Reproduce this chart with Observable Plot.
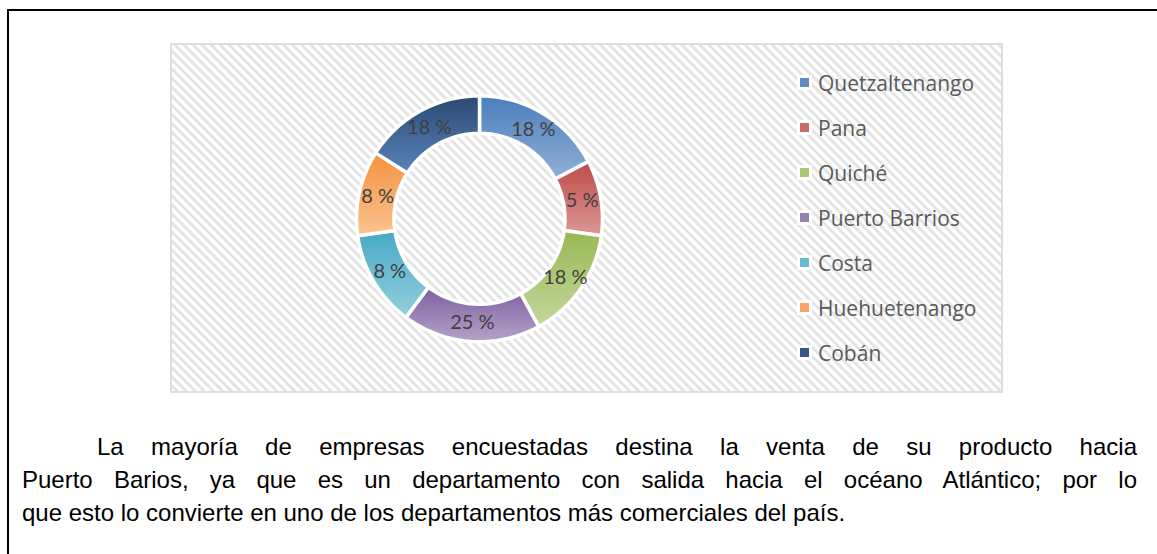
<!DOCTYPE html>
<html><head><meta charset="utf-8">
<script src="https://cdn.jsdelivr.net/npm/d3@7"></script>
<script src="https://cdn.jsdelivr.net/npm/@observablehq/plot@0.6"></script>
<style>
body{margin:0;background:#fff;width:1157px;height:554px;overflow:hidden;position:relative;font-family:"Liberation Sans",Arial,sans-serif;}
#frame{position:absolute;left:7px;top:9px;width:1300px;height:700px;border-top:2px solid #000;border-left:2px solid #000;}
#chartbg{position:absolute;left:170px;top:43px;width:833px;height:350px;box-sizing:border-box;border:2px solid #dedede;
 background:repeating-linear-gradient(45deg,#ffffff 0px,#ffffff 1.4px,#e2e2e2 3px,#e2e2e2 4.2px,#ffffff 5.8px,#ffffff 6.4px);}
#plot{position:absolute;left:170px;top:43px;}
#legend{position:absolute;left:797px;top:60px;font-family:"Open Sans",Lato,sans-serif;font-size:21px;color:#595959;}
.item{height:45px;display:flex;align-items:center;}
.sw{width:9px;height:9px;border:3px solid #fff;margin-right:6px;}
.line{position:absolute;left:22px;width:1115px;font-size:24px;line-height:33px;color:#000;white-space:nowrap;}
.just{text-align:justify;text-align-last:justify;white-space:normal;}
</style></head>
<body>
<div id="frame"></div>
<div id="chartbg"></div>
<div id="plot"></div>
<div id="legend"></div>
<div class="line just" style="top:430px;padding-left:75px;width:1040px;">La mayoría de empresas encuestadas destina la venta de su producto hacia</div>
<div class="line just" style="top:463px;">Puerto Barios, ya que es un departamento con salida hacia el océano Atlántico; por lo</div>
<div class="line" style="top:496px;">que esto lo convierte en uno de los departamentos más comerciales del país.</div>
<script>
// Categories (clockwise from top)
const names = ["Quetzaltenango","Pana","Quiché","Puerto Barrios","Costa","Huehuetenango","Cobán"];
// Slice sizes as drawn in the picture (share of the ring, %)
const sliceShares = [17.3, 9.9, 14.8, 18.2, 12.6, 11.2, 16.0];
// Percent labels printed on the slices
const labelPercents = [18, 5, 18, 25, 8, 8, 18];
// Palette (gradient top / bottom, legend swatch)
const topColors = ["#4a7ebb","#be4b48","#98b954","#7d60a0","#46aac5","#f69240","#2a4a72"];
const bottomColors = ["#93afd8","#da9996","#c4d79d","#b4a3c9","#95cfde","#fac391","#5a82ba"];
const swatchColors = ["#5f8ec6","#c96b68","#a9c670","#9580b2","#65bbd0","#f8a466","#355a88"];

const data = names.map((name, i) => ({name, value: sliceShares[i], label: `${labelPercents[i]} %`}));
const arcs = d3.pie().sort(null).value(d => d.value)(data);
const R = 1, r = 0.695, steps = 120;
const pts = [];
for (const a of arcs) {
  const n = Math.max(2, Math.ceil((a.endAngle - a.startAngle) / (2 * Math.PI) * steps));
  for (let k = 0; k <= n; k++) {
    const t = a.startAngle + (a.endAngle - a.startAngle) * k / n;
    pts.push({name: a.data.name, x: R * Math.sin(t), y: R * Math.cos(t)});
  }
  for (let k = n; k >= 0; k--) {
    const t = a.startAngle + (a.endAngle - a.startAngle) * k / n;
    pts.push({name: a.data.name, x: r * Math.sin(t), y: r * Math.cos(t)});
  }
}
const labels = arcs.map(a => {
  const m = (a.startAngle + a.endAngle) / 2, rm = (R + r) / 2;
  return {label: a.data.label, x: rm * Math.sin(m), y: rm * Math.cos(m)};
});
const grads = names.map((_, i) => `url(#g${i})`);
const cx = 309, cy = 175.3, rad = 123;
const svg = Plot.plot({
  width: 833, height: 350,
  margin: 0,
  style: {background: "transparent", overflow: "visible"},
  x: {domain: [-1, 1], range: [cx - rad, cx + rad], axis: null},
  y: {domain: [-1, 1], range: [cy + rad, cy - rad], axis: null},
  color: {type: "ordinal", domain: names, range: grads},
  marks: [
    Plot.line(pts, {x: "x", y: "y", z: "name", fill: "name", stroke: "white", strokeWidth: 3.5, curve: "linear-closed", strokeLinejoin: "miter"}),
    Plot.text(labels, {x: "x", y: "y", text: "label", fill: "#404040", fontSize: 20, fontFamily: "Lato, 'Open Sans', sans-serif"})
  ]
});
const defs = d3.select(svg).insert("defs", ":first-child");
names.forEach((_, i) => {
  const g = defs.append("linearGradient").attr("id", `g${i}`).attr("x1", 0).attr("y1", 0).attr("x2", 0).attr("y2", 1);
  g.append("stop").attr("offset", "0%").attr("stop-color", topColors[i]);
  g.append("stop").attr("offset", "100%").attr("stop-color", bottomColors[i]);
});
document.getElementById("plot").appendChild(svg);
const lg = d3.select("#legend");
names.forEach((n, i) => {
  const it = lg.append("div").attr("class", "item");
  it.append("div").attr("class", "sw").style("background", swatchColors[i]);
  it.append("span").text(n);
});
</script>
</body></html>
